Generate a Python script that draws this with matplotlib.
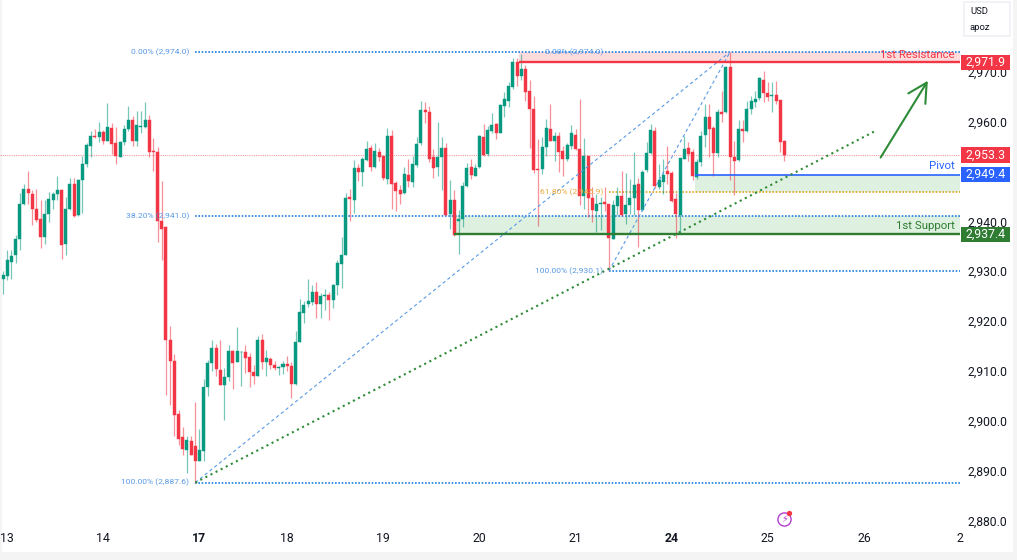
import matplotlib
matplotlib.use("Agg")
import matplotlib.pyplot as plt
from matplotlib.patches import Rectangle, FancyBboxPatch
from matplotlib.transforms import blended_transform_factory

plt.rcParams['font.family'] = ['Roboto', 'DejaVu Sans']

# hourly candles
opens = [
    2928.4, 2929.1, 2931.9, 2933.2, 2936.5, 2943.5, 2946.5, 2945.5, 2942.5, 2940.5,
    2936.9, 2941.4, 2944.3, 2945.4, 2946.2, 2935.4, 2942.4, 2947.5, 2941.2, 2948.3,
    2951.5, 2955.2, 2957.2, 2957.0, 2957.9, 2956.2, 2958.7, 2955.7, 2953.0, 2956.0,
    2958.5, 2960.4, 2956.2, 2959.0, 2959.0, 2960.4, 2954.1, 2954.0, 2940.0, 2938.9,
    2916.2, 2911.9, 2901.3, 2896.7, 2894.2, 2896.0, 2894.9, 2892.0, 2894.0, 2906.7,
    2911.5, 2914.7, 2910.1, 2907.2, 2908.7, 2914.1, 2911.8, 2913.7, 2913.7, 2912.8,
    2909.7, 2909.0, 2916.3, 2911.8, 2912.4, 2911.1, 2910.6, 2910.7, 2911.4, 2911.0,
    2907.4, 2915.9, 2921.7, 2923.4, 2923.9, 2925.9, 2923.5, 2925.1, 2925.3, 2924.2,
    2927.2, 2931.5, 2933.3, 2944.8, 2944.3, 2950.7, 2950.0, 2952.4, 2954.7, 2950.9,
    2953.9, 2953.2, 2948.5, 2957.2, 2947.7, 2946.2, 2945.7, 2949.3, 2947.9, 2951.4,
    2955.7, 2962.3, 2962.0, 2952.9, 2950.9, 2953.0, 2954.7, 2941.4, 2944.2, 2940.0,
    2940.4, 2947.0, 2951.0, 2949.2, 2950.9, 2957.0, 2953.5, 2958.2, 2959.5, 2957.8,
    2963.2, 2964.2, 2966.9, 2971.9, 2969.1, 2970.5, 2966.1, 2962.5, 2950.6, 2950.6,
    2954.9, 2958.5, 2956.2, 2957.2, 2954.1, 2952.5, 2955.2, 2957.4, 2954.5, 2945.1,
    2953.2, 2944.7, 2942.1, 2943.4, 2943.9, 2943.4, 2936.5, 2943.0, 2945.1, 2941.5,
    2943.3, 2944.7, 2947.5, 2942.2, 2950.4, 2953.7, 2958.2, 2946.9, 2947.9, 2950.1,
    2949.7, 2944.4, 2941.3, 2952.6, 2954.7, 2953.9, 2948.9, 2951.9, 2957.4, 2960.9,
    2958.7, 2953.7, 2962.0, 2961.9, 2970.9, 2953.0, 2952.3, 2958.5, 2958.1, 2962.5,
    2963.9, 2964.7, 2968.4, 2965.7, 2965.1, 2965.3, 2964.3, 2956.2,
]
closes = [
    2929.2, 2932.2, 2933.0, 2936.4, 2943.5, 2946.5, 2945.7, 2942.5, 2940.2, 2936.9,
    2941.5, 2944.5, 2945.4, 2946.2, 2935.3, 2942.5, 2947.5, 2941.0, 2948.3, 2951.5,
    2955.3, 2957.1, 2956.9, 2957.9, 2956.1, 2958.9, 2955.5, 2953.1, 2955.9, 2958.5,
    2960.3, 2956.2, 2959.3, 2959.2, 2960.4, 2954.0, 2953.9, 2940.0, 2938.5, 2916.3,
    2911.9, 2901.2, 2896.4, 2894.4, 2896.2, 2893.2, 2891.9, 2894.1, 2906.7, 2911.5,
    2914.7, 2910.3, 2907.2, 2908.7, 2914.0, 2911.5, 2914.0, 2913.8, 2912.5, 2909.7,
    2909.0, 2916.2, 2911.7, 2912.6, 2911.1, 2910.6, 2910.8, 2911.4, 2911.0, 2907.4,
    2915.8, 2921.9, 2923.3, 2924.0, 2925.8, 2923.4, 2925.0, 2925.2, 2924.3, 2927.2,
    2931.7, 2933.3, 2944.7, 2944.5, 2950.7, 2949.9, 2952.5, 2954.5, 2951.0, 2954.2,
    2953.0, 2948.6, 2957.2, 2947.5, 2946.1, 2945.5, 2949.5, 2948.0, 2951.5, 2955.5,
    2962.3, 2962.0, 2952.5, 2950.7, 2953.0, 2954.7, 2941.2, 2944.3, 2937.2, 2940.5,
    2947.1, 2950.8, 2949.3, 2950.7, 2957.2, 2953.3, 2958.4, 2959.4, 2957.8, 2963.3,
    2964.6, 2967.1, 2971.9, 2969.1, 2970.5, 2965.9, 2962.5, 2950.4, 2950.3, 2955.0,
    2958.7, 2956.2, 2957.2, 2953.9, 2952.5, 2955.4, 2957.7, 2954.5, 2945.1, 2953.2,
    2944.7, 2942.2, 2943.4, 2943.7, 2943.5, 2936.7, 2943.2, 2945.1, 2941.3, 2943.3,
    2944.7, 2947.3, 2942.3, 2950.0, 2953.7, 2958.3, 2947.0, 2948.2, 2949.4, 2949.5,
    2944.1, 2941.4, 2952.7, 2954.5, 2953.5, 2949.1, 2951.9, 2957.2, 2960.9, 2958.5,
    2953.7, 2962.0, 2961.5, 2970.9, 2953.0, 2952.2, 2958.5, 2958.2, 2962.5, 2964.1,
    2964.6, 2968.7, 2965.8, 2965.0, 2965.4, 2964.2, 2956.0, 2953.3,
]
highs = [
    2930.0, 2934.2, 2934.3, 2937.3, 2945.7, 2947.5, 2950.1, 2946.2, 2946.4, 2944.3,
    2944.2, 2945.9, 2945.9, 2949.0, 2946.4, 2944.9, 2948.7, 2948.7, 2948.5, 2953.2,
    2955.7, 2958.1, 2958.5, 2959.9, 2958.3, 2963.8, 2959.7, 2959.0, 2956.2, 2959.4,
    2963.1, 2961.1, 2962.2, 2962.2, 2963.9, 2961.4, 2956.7, 2954.9, 2948.0, 2939.0,
    2919.1, 2913.4, 2902.2, 2898.7, 2896.9, 2896.9, 2903.7, 2898.4, 2908.3, 2912.2,
    2916.2, 2915.5, 2916.3, 2910.5, 2915.2, 2914.2, 2918.9, 2914.1, 2915.2, 2913.5,
    2911.2, 2917.0, 2917.4, 2914.2, 2912.7, 2911.9, 2910.9, 2911.9, 2912.9, 2911.7,
    2918.1, 2924.5, 2924.0, 2928.5, 2927.2, 2927.8, 2925.7, 2926.5, 2925.9, 2927.5,
    2932.2, 2936.9, 2945.7, 2946.5, 2952.3, 2951.5, 2953.0, 2956.2, 2955.4, 2955.7,
    2954.7, 2953.2, 2958.7, 2958.3, 2948.1, 2947.2, 2950.9, 2952.5, 2953.2, 2956.9,
    2964.2, 2963.9, 2963.2, 2954.5, 2959.9, 2957.0, 2955.7, 2948.2, 2946.3, 2942.2,
    2947.9, 2951.7, 2952.5, 2951.5, 2957.3, 2959.5, 2959.2, 2961.7, 2959.7, 2963.5,
    2965.9, 2968.0, 2972.7, 2972.7, 2973.5, 2971.4, 2968.3, 2965.2, 2956.5, 2956.9,
    2960.5, 2963.5, 2958.0, 2957.9, 2955.2, 2955.7, 2959.4, 2958.5, 2964.5, 2956.7,
    2953.2, 2946.9, 2945.4, 2944.9, 2946.9, 2943.4, 2944.2, 2946.9, 2950.1, 2949.7,
    2948.5, 2953.9, 2948.7, 2950.3, 2955.9, 2959.5, 2958.9, 2951.5, 2952.5, 2955.1,
    2950.1, 2945.7, 2952.7, 2957.2, 2955.9, 2954.5, 2952.5, 2958.2, 2963.5, 2963.5,
    2959.2, 2962.5, 2966.2, 2971.2, 2974.0, 2956.2, 2960.3, 2960.3, 2964.1, 2965.2,
    2966.2, 2968.9, 2970.2, 2968.0, 2967.9, 2968.1, 2964.3, 2956.3,
]
lows = [
    2925.4, 2928.2, 2928.4, 2931.7, 2934.3, 2943.2, 2943.5, 2939.3, 2939.9, 2934.7,
    2935.4, 2939.9, 2942.5, 2944.2, 2932.5, 2933.2, 2942.2, 2940.9, 2941.1, 2941.7,
    2951.0, 2952.9, 2956.7, 2955.9, 2955.5, 2956.1, 2953.5, 2951.5, 2952.9, 2955.4,
    2958.2, 2955.2, 2955.2, 2957.7, 2958.7, 2953.0, 2950.1, 2935.9, 2932.3, 2905.2,
    2903.1, 2896.9, 2895.2, 2893.2, 2889.5, 2893.2, 2887.6, 2892.0, 2892.0, 2905.0,
    2909.9, 2909.0, 2907.2, 2900.2, 2907.9, 2906.3, 2911.8, 2907.0, 2909.5, 2906.7,
    2907.4, 2909.0, 2910.3, 2908.9, 2910.3, 2910.2, 2909.2, 2909.4, 2910.0, 2904.5,
    2907.2, 2915.9, 2919.7, 2922.9, 2923.2, 2920.7, 2920.7, 2922.2, 2920.3, 2922.7,
    2925.3, 2926.7, 2933.2, 2940.0, 2941.7, 2948.0, 2947.0, 2952.1, 2950.2, 2950.7,
    2952.2, 2948.3, 2947.4, 2942.4, 2942.1, 2943.5, 2945.5, 2946.9, 2946.9, 2950.9,
    2955.4, 2959.7, 2951.9, 2948.7, 2949.2, 2946.2, 2941.2, 2938.5, 2937.1, 2933.5,
    2938.9, 2946.9, 2948.5, 2949.0, 2950.7, 2953.2, 2953.2, 2957.7, 2956.5, 2957.7,
    2961.0, 2962.9, 2966.5, 2967.2, 2968.3, 2964.2, 2954.7, 2949.7, 2939.1, 2949.5,
    2953.2, 2956.2, 2952.2, 2949.9, 2949.2, 2952.2, 2954.5, 2954.3, 2943.2, 2942.5,
    2940.9, 2939.9, 2937.9, 2938.2, 2942.0, 2930.1, 2936.5, 2941.2, 2941.0, 2939.5,
    2941.5, 2941.2, 2934.9, 2942.0, 2949.9, 2953.5, 2946.7, 2946.5, 2945.5, 2947.4,
    2943.9, 2936.7, 2937.5, 2952.5, 2952.1, 2948.2, 2948.5, 2951.2, 2954.9, 2953.0,
    2949.2, 2953.0, 2959.9, 2961.7, 2948.3, 2945.2, 2952.1, 2956.0, 2957.9, 2961.5,
    2962.9, 2964.3, 2963.9, 2964.2, 2961.9, 2963.5, 2953.9, 2952.2,
]

# 2,950.0 is hidden behind the price badges in the original
price_ticks = [2880, 2890, 2900, 2910, 2920, 2930, 2940, 2960, 2970]
day_ticks = [1, 24, 47, 68, 91, 114, 137, 160, 183, 206, 229]
day_labels = ['13', '14', '17', '18', '19', '20', '21', '24', '25', '26', '2']

UP = '#089981'
DOWN = '#f23645'
BLUE = '#2962ff'
GREEN = '#2e7d32'
FIB = '#5a9ae6'

W, H = 1017, 560
fig = plt.figure(figsize=(W / 100, H / 100), dpi=100, facecolor='#f4f4f4')
fig.add_artist(Rectangle((2 / W, 8 / H), (W - 6) / W, (H - 8) / H, transform=fig.transFigure,
                         facecolor='white', edgecolor='none', zorder=-5))

ax = fig.add_axes([0, (H - 527) / H, 960 / W, 527 / H])
ax.patch.set_alpha(0)
ax.set_xlim(-0.72, 229)
ax.set_ylim(2878.7, 2984.4)
for s in ax.spines.values():
    s.set_visible(False)

# axis labels
ax.yaxis.tick_right()
ax.set_yticks(price_ticks)
ax.set_yticklabels([f'{p:,.1f}' for p in price_ticks], fontsize=8.8, color='#131722')
ax.set_xticks(day_ticks)
ax.set_xticklabels(day_labels, fontsize=8.8, color='#131722')
ax.tick_params(axis='both', length=0)
ax.tick_params(axis='y', pad=5.5)
ax.tick_params(axis='x', pad=3.5)
for lab in ax.get_xticklabels():
    if lab.get_text() in ('17', '24'):
        lab.set_fontweight('bold')

# candles
xs = list(range(len(opens)))
colors = [UP if c >= o else DOWN for o, c in zip(opens, closes)]
ax.vlines(xs, lows, highs, colors=colors, linewidth=0.9, alpha=0.55, zorder=3)
ax.bar(xs, [abs(c - o) for o, c in zip(opens, closes)], bottom=[min(o, c) for o, c in zip(opens, closes)],
       width=0.72, color=colors, linewidth=0.3, edgecolor=colors, zorder=4)

# fib levels
dot = (0, (1, 1))
last = 228.9
low_bar, swing_bar, top_bar = 46, 145, 174
for level in [2974.0, 2941.0, 2887.6]:
    ax.plot([low_bar, last], [level, level], color='#1e7fe0', lw=1.2, ls=dot, zorder=2)
ax.plot([swing_bar, last], [2930.1, 2930.1], color='#1e7fe0', lw=1.2, ls=dot, zorder=2)
ax.plot([swing_bar, last], [2945.9, 2945.9], color='#d9a520', lw=1.2, ls=dot, zorder=2)
ax.plot([low_bar, top_bar], [2887.6, 2974.0], color=FIB, lw=0.8, ls=(0, (3, 2.5)), zorder=5)
ax.plot([swing_bar, top_bar], [2930.1, 2974.0], color=FIB, lw=0.8, ls=(0, (3, 2.5)), zorder=5)

for bar, level, txt, col in [(low_bar, 2974.0, '0.00% (2,974.0)', FIB),
                             (low_bar, 2941.0, '38.20% (2,941.0)', FIB),
                             (low_bar, 2887.6, '100.00% (2,887.6)', FIB),
                             (swing_bar, 2974.0, '0.00% (2,974.0)', FIB),
                             (swing_bar, 2945.9, '61.80% (2,945.9)', '#e8a93a'),
                             (swing_bar, 2930.1, '100.00% (2,930.1)', FIB)]:
    ax.text(bar - 1.4, level, txt, color=col, fontsize=6.1, ha='right', va='center', zorder=6)

# zones
ax.fill_between([123.5, last], 2971.9, 2974.0, color='#ff5252', alpha=0.2, lw=0, zorder=1)
ax.plot([123.5, last], [2971.9, 2971.9], color='#f23645', lw=1.7, zorder=5, solid_capstyle='butt')
ax.fill_between([108, last], 2937.4, 2941.0, color='#4caf50', alpha=0.18, lw=0, zorder=1)
ax.plot([108, last], [2937.4, 2937.4], color=GREEN, lw=1.7, zorder=5, solid_capstyle='butt')
ax.fill_between([165.5, last], 2945.9, 2949.4, color='#4caf50', alpha=0.18, lw=0, zorder=1)
ax.plot([165.5, last], [2949.4, 2949.4], color=BLUE, lw=1.2, zorder=5, solid_capstyle='butt')

ax.text(227.8, 2973.3, '1st Resistance', color='#f23645', fontsize=8.2, ha='right', va='center', zorder=6)
ax.text(227.8, 2951.1, 'Pivot', color=BLUE, fontsize=8.2, ha='right', va='center', zorder=6)
ax.text(227.8, 2939.0, '1st Support', color=GREEN, fontsize=8.2, ha='right', va='center', zorder=6)

# current price
ax.axhline(2953.3, color='#f23645', alpha=0.5, lw=0.8, ls=(0, (1, 1)), zorder=2)

# trendline + arrow
ax.plot([low_bar, 208.9], [2887.6, 2958.2], color='#2e8b37', lw=1.5, ls=(0, (1, 1.75)), zorder=6)
ax.annotate('', xy=(221.3, 2968.2), xytext=(210, 2952.8),
            arrowprops=dict(arrowstyle='->,head_length=0.75,head_width=0.4', color='#2e8b37',
                            lw=1.5, mutation_scale=18, shrinkA=0, shrinkB=0), zorder=6)

# price badges on the scale
trans = blended_transform_factory(ax.transAxes, ax.transData)
for price, col in [(2971.9, '#f23645'), (2953.3, '#f23645'), (2949.4, BLUE), (2937.4, GREEN)]:
    ax.add_patch(Rectangle((961 / 960, price - 1.55), 49 / 960, 3.1, transform=trans, facecolor=col,
                           edgecolor='none', clip_on=False, zorder=7))
    ax.text(985.5 / 960, price, f'{price:,.1f}', transform=trans, color='white', fontsize=8.8,
            ha='center', va='center', clip_on=False, zorder=8)

# currency box
fig.add_artist(FancyBboxPatch((964 / W, (H - 36) / H), 46 / W, 34 / H, transform=fig.transFigure,
                              boxstyle='round,pad=0', facecolor='white', edgecolor='#e6e8ee', lw=0.8))
fig.text(970 / W, (H - 11) / H, 'USD', fontsize=6.8, color='#131722', va='center')
fig.text(970 / W, (H - 27) / H, 'apoz', fontsize=6.8, color='#131722', va='center')

# lightning badge
ax.plot([187], [2880.4], marker='o', ms=9.5, mfc='white', mec='#b13fd0', mew=1, zorder=6, clip_on=False)
ax.plot([188], [2881.6], marker='o', ms=2.8, color='#f23645', zorder=7)
ax.text(187, 2880.4, '\u26a1', fontsize=7, color='#b13fd0', ha='center', va='center',
        family='DejaVu Sans', zorder=7)

fig.savefig('out.png', dpi=100, facecolor=fig.get_facecolor())
